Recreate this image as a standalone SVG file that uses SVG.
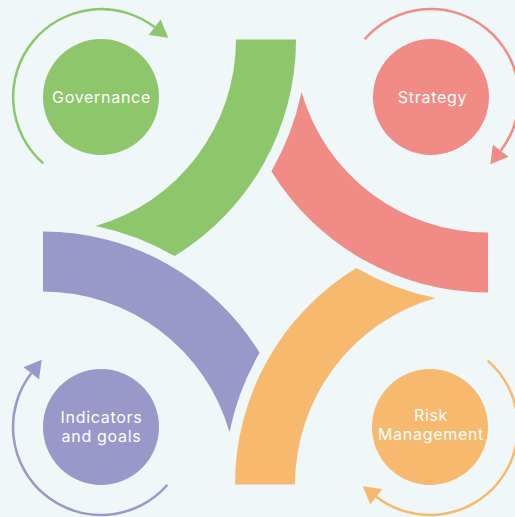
<svg xmlns="http://www.w3.org/2000/svg" xmlns:xlink="http://www.w3.org/1999/xlink" width="515" height="517" viewBox="0 0 515 517">
<style>
.lbl{font-family:Inter,"Liberation Sans",sans-serif;font-size:16px;fill:#ffffff;text-anchor:middle;letter-spacing:0.7px}
.loop{fill:none;stroke-width:2.5}
</style>
<defs>
<path id="band" d="M236,39.5 L296,39.5 A254,254 0 0 1 174.7,256.1 A265,265 0 0 0 95.5,226 A194,194 0 0 0 236,39.5 Z"/>
<marker id="ahG" markerUnits="userSpaceOnUse" markerWidth="18" markerHeight="20" refX="0" refY="9.85" orient="auto" overflow="visible"><path d="M0,0 L17,9.85 L0,19.7 Z" fill="#8DC66B"/></marker>
<marker id="ahR" markerUnits="userSpaceOnUse" markerWidth="18" markerHeight="20" refX="0" refY="9.85" orient="auto" overflow="visible"><path d="M0,0 L17,9.85 L0,19.7 Z" fill="#F08C85"/></marker>
<marker id="ahP" markerUnits="userSpaceOnUse" markerWidth="18" markerHeight="20" refX="0" refY="9.85" orient="auto" overflow="visible"><path d="M0,0 L17,9.85 L0,19.7 Z" fill="#9A97C9"/></marker>
<marker id="ahO" markerUnits="userSpaceOnUse" markerWidth="18" markerHeight="20" refX="0" refY="9.85" orient="auto" overflow="visible"><path d="M0,0 L17,9.85 L0,19.7 Z" fill="#F7B96D"/></marker>
</defs>
<rect x="0" y="0" width="515" height="517" fill="#EFF7F9"/>
<g id="bands">
<use xlink:href="#band" href="#band" fill="#8DC66B"/>
<use xlink:href="#band" href="#band" fill="#F08C85" transform="rotate(90 265.5 262)"/>
<use xlink:href="#band" href="#band" fill="#F7B96D" transform="rotate(180 265.5 262)"/>
<use xlink:href="#band" href="#band" fill="#9A97C9" transform="rotate(-90 265.5 262)"/>
</g>
<g id="connectors">
<path class="loop" stroke="#8DC66B" marker-end="url(#ahG)" d="M43.27,163.41 A88,88 0 0 1 154.69,27.28"/>
<path class="loop" stroke="#F08C85" marker-end="url(#ahR)" d="M364.59,39.26 A88,88 0 0 1 500.72,150.69"/>
<path class="loop" stroke="#F7B96D" marker-end="url(#ahO)" d="M487.74,360.59 A88,88 0 0 1 376.31,496.72"/>
<path class="loop" stroke="#9A97C9" marker-end="url(#ahP)" d="M167.41,484.74 A88,88 0 0 1 31.28,373.31"/>
</g>
<g id="governance">
<circle cx="101" cy="97" r="58" fill="#8DC66B"/>
<text class="lbl" x="101.5" y="103">Governance</text>
</g>
<g id="strategy">
<circle cx="431" cy="97" r="58" fill="#F08C85"/>
<text class="lbl" x="432.5" y="103">Strategy</text>
</g>
<g id="indicators">
<circle cx="101" cy="427" r="58" fill="#9A97C9"/>
<text class="lbl" x="101.5" y="422.5">Indicators</text>
<text class="lbl" x="101.5" y="441.5">and goals</text>
</g>
<g id="risk">
<circle cx="430" cy="427" r="58" fill="#F7B96D"/>
<text class="lbl" x="431" y="420.5">Risk</text>
<text class="lbl" x="431" y="440">Management</text>
</g>
</svg>
